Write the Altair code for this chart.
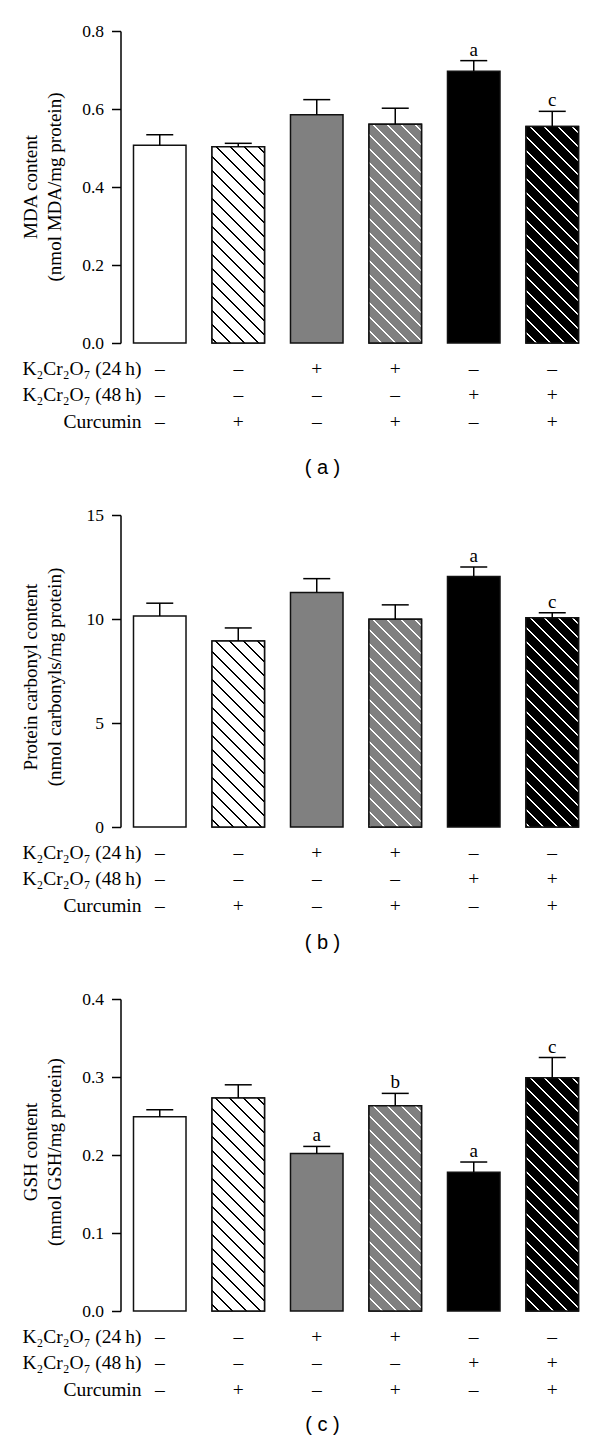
import math
import altair as alt
import pandas as pd

# ---------------- data ----------------
groups = ["Control", "Curcumin", "K2Cr2O7 24h", "K2Cr2O7 24h + Curcumin",
          "K2Cr2O7 48h", "K2Cr2O7 48h + Curcumin"]

k24_row = ["\u2013", "\u2013", "+", "+", "\u2013", "\u2013"]
k48_row = ["\u2013", "\u2013", "\u2013", "\u2013", "+", "+"]
curc_row = ["\u2013", "+", "\u2013", "+", "\u2013", "+"]
row_names = ["K\u2082Cr\u2082O\u2087 (24\u2009h)", "K\u2082Cr\u2082O\u2087 (48\u2009h)", "Curcumin"]

mda_mean = [0.507, 0.503, 0.585, 0.561, 0.697, 0.555]
mda_err = [0.027, 0.009, 0.039, 0.041, 0.027, 0.039]
mda_sig = ["", "", "", "", "a", "c"]

pc_mean = [10.15, 8.94, 11.28, 9.99, 12.04, 10.06]
pc_err = [0.61, 0.63, 0.66, 0.69, 0.46, 0.24]
pc_sig = ["", "", "", "", "a", "c"]

gsh_mean = [0.249, 0.273, 0.202, 0.263, 0.178, 0.299]
gsh_err = [0.009, 0.017, 0.009, 0.016, 0.013, 0.026]
gsh_sig = ["", "", "a", "b", "a", "c"]

fills = ["#ffffff", "#ffffff", "#808080", "#808080", "#000000", "#000000"]
hatch = [None, "#000000", None, "#ffffff", None, "#ffffff"]

# ---------------- layout ----------------
W = 471
H = 312
PI = 0.331
PO = 0.1656
step = W / (len(groups) - PI + 2 * PO)
BW = step * (1 - PI)
SERIF = "Liberation Serif"
SANS = "Liberation Sans"


def hatch_gradient(bg, line, w, h, spacing=14.0, thick=1.9, phase=4.0):
    total = w + h

    def t(s):
        return min(1.0, max(0.0, (s + h) / total))

    stops = [{"offset": 0, "color": bg}]
    s = phase - spacing * math.ceil((h + phase) / spacing)
    while s <= w + spacing:
        a, b = t(s - thick / 2), t(s + thick / 2)
        if b > 0 and a < 1:
            stops += [{"offset": a, "color": bg}, {"offset": a, "color": line},
                      {"offset": b, "color": line}, {"offset": b, "color": bg}]
        s += spacing
    stops.append({"offset": 1, "color": bg})
    k = total / (w * w + h * h)
    return {"gradient": "linear", "x1": 0, "y1": 1, "x2": k * w, "y2": 1 - k * h,
            "stops": stops}


def panel(mean, err, sig, ymax, yticks, fmt, title_lines, caption, title_cy, cap_dy):
    df = pd.DataFrame({
        "group": groups, "mean": mean,
        "top": [m + e for m, e in zip(mean, err)],
        "sig": sig, "k24": k24_row, "k48": k48_row, "curc": curc_row,
    })
    xdef = alt.X("group:N", sort=groups, axis=None,
                 scale=alt.Scale(paddingInner=PI, paddingOuter=PO))
    axis = alt.Axis(values=yticks, format=fmt, title=None, grid=False,
                    domainColor="black", domainWidth=1.5, tickColor="black",
                    tickWidth=1.5, tickSize=9, labelFont=SERIF, labelFontSize=17.5,
                    labelColor="black", labelPadding=8)
    yscale = alt.Scale(domain=[0, ymax], nice=False, zero=True)

    def ydef(field):
        return alt.Y(f"{field}:Q", scale=yscale, axis=axis, title=None)

    base = alt.Chart(df)
    layers = [base.mark_bar(stroke="#111111", strokeWidth=1.5).encode(
        x=xdef, y=ydef("mean"),
        fill=alt.Fill("group:N", scale=alt.Scale(domain=groups, range=fills), legend=None))]
    for i, g in enumerate(groups):
        if hatch[i]:
            h = mean[i] / ymax * H
            layers.append(base.transform_filter(alt.datum.group == g).mark_bar(
                fill=hatch_gradient(fills[i], hatch[i], BW, h),
                stroke="#111111", strokeWidth=1.5).encode(x=xdef, y=ydef("mean")))
    layers.append(base.mark_rule(color="black", strokeWidth=1.5).encode(
        x=xdef, y=ydef("mean"), y2="top:Q"))
    layers.append(base.mark_tick(orient="horizontal", size=27, thickness=1.5,
                                 color="black", opacity=1).encode(x=xdef, y=ydef("top")))
    layers.append(base.transform_filter(alt.datum.sig != "").mark_text(
        font=SERIF, fontSize=19, baseline="alphabetic", dy=-5, color="black").encode(
        x=xdef, y=ydef("top"), text="sig:N"))
    for col, dy in zip(["k24", "k48", "curc"], [25.5, 52, 78.5]):
        layers.append(base.mark_text(font=SERIF, fontSize=19.5, baseline="middle",
                                     color="black").encode(
            x=xdef, y=alt.value(H + dy), text=f"{col}:N"))
    for name, dy in zip(row_names, [25.5, 52, 78.5]):
        layers.append(alt.Chart(pd.DataFrame({"name": [name]})).mark_text(
            font=SERIF, fontSize=19.5, baseline="middle", align="right", color="black").encode(
            x=alt.value(21), y=alt.value(H + dy), text="name:N"))
    for line, xo in zip(title_lines, [-90, -66]):
        layers.append(alt.Chart(pd.DataFrame({"t": [line]})).mark_text(
            font=SERIF, fontSize=19, angle=270, baseline="middle", align="center",
            color="black").encode(x=alt.value(xo), y=alt.value(title_cy), text="t:N"))
    layers.append(alt.Chart(pd.DataFrame({"c": [caption]})).mark_text(
        font=SANS, fontSize=20, baseline="middle", align="center", color="black").encode(
        x=alt.value(202), y=alt.value(H + cap_dy), text="c:N"))
    return alt.layer(*layers).properties(width=W, height=H)


pa = panel(mda_mean, mda_err, mda_sig, 0.8, [0, 0.2, 0.4, 0.6, 0.8], ".1f",
           ["MDA content", "(nmol MDA/mg protein)"], "( a )", 156, 125)
pb = panel(pc_mean, pc_err, pc_sig, 15, [0, 5, 10, 15], "d",
           ["Protein carbonyl content", "(nmol carbonyls/mg protein)"], "( b )", 162, 116)
pc = panel(gsh_mean, gsh_err, gsh_sig, 0.4, [0, 0.1, 0.2, 0.3, 0.4], ".1f",
           ["GSH content", "(mmol GSH/mg protein)"], "( c )", 153, 114)

chart = alt.vconcat(pa, pb, pc, spacing=172, bounds="flush").properties(
    padding={"left": 13.5, "top": 14, "right": 0, "bottom": 5}
).configure_view(stroke=None)

chart.save("out.html", embed_options={"renderer": "svg", "actions": False})
